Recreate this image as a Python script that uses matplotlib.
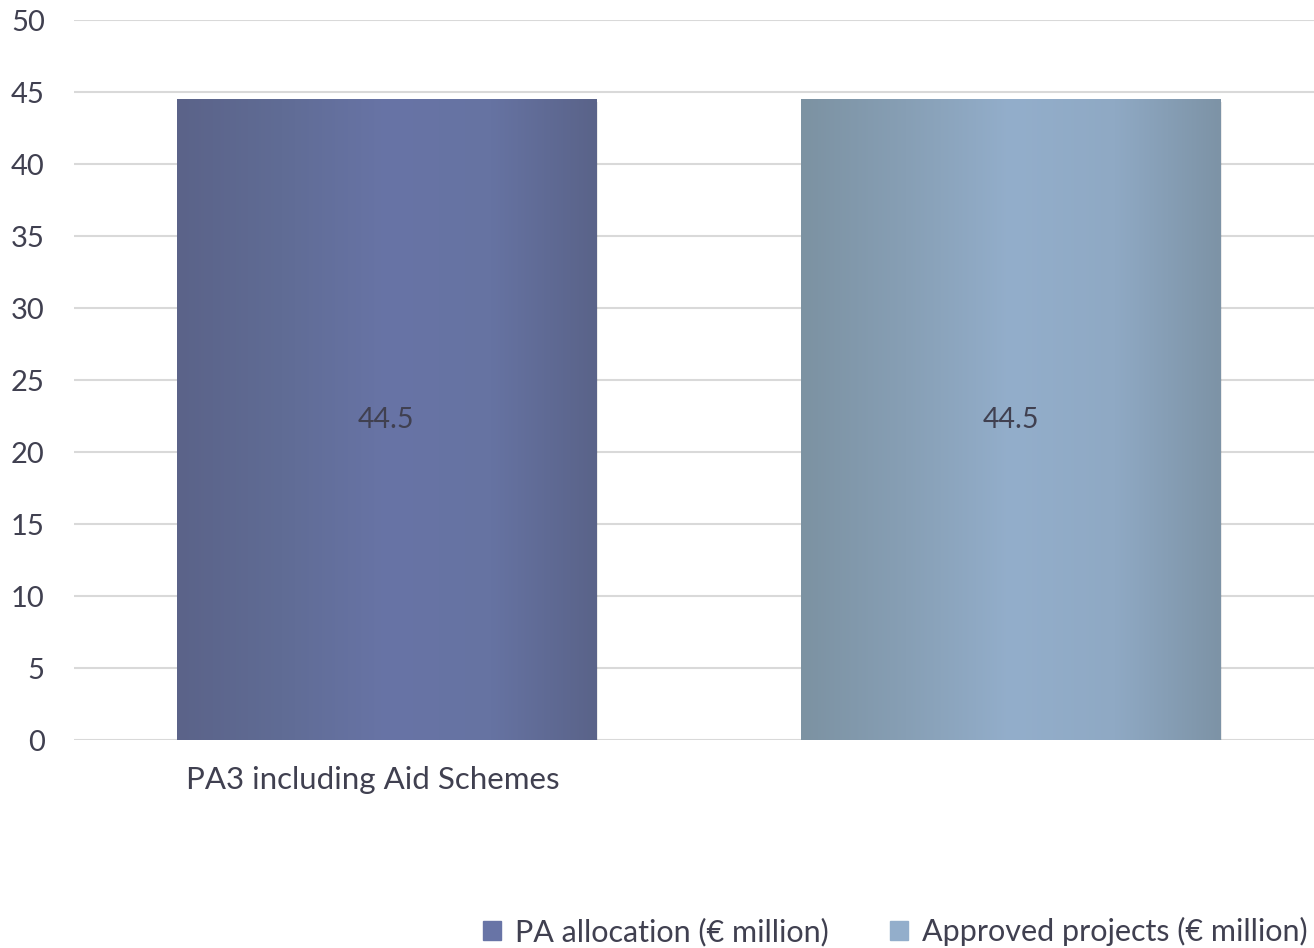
import matplotlib.pyplot as plt
import matplotlib.transforms as mtransforms
import numpy as np
from matplotlib.colors import LinearSegmentedColormap, to_rgb

plt.rcParams['font.family'] = ['Lato', 'DejaVu Sans']

# Données
categories = ["PA3 including Aid Schemes", ""]
series_names = ["PA allocation (€ million)", "Approved projects (€ million)"]
pa_allocation = [44.5, 0]
approved = [0, 44.5]
yticks = list(range(0, 51, 5))

# Couleurs des dégradés (bord, centre, bord)
grad1 = ["#5b6389", "#606c95", "#6874a6", "#6673a2", "#5a6389"]
grad2 = ["#7c92a2", "#879fb5", "#93aecb", "#8fa9c4", "#7d93a6"]
text_col = "#404050"

fig = plt.figure(figsize=(13.14, 9.48), dpi=100)
ax = fig.add_axes([0.0563, 0.2194, 0.9437, 0.7595])

x = np.arange(len(categories))
w = 0.671
b1 = ax.bar(x, pa_allocation, w, color=grad1[2], label=series_names[0], zorder=2)
b2 = ax.bar(x, approved, w, color=grad2[2], label=series_names[1], zorder=2)


def gradient_fill(bars, stops):
    cmap = LinearSegmentedColormap.from_list("g", [to_rgb(c) for c in stops])
    img = np.linspace(0, 1, 256).reshape(1, -1)
    for r in bars:
        h = r.get_height()
        if h <= 0:
            continue
        x0, w0 = r.get_x(), r.get_width()
        # ombre légère
        ax.bar(x0 + w0 / 2 + 0.003, h, w0, bottom=-0.2, color="#000000",
               alpha=0.08, zorder=1.5)
        ax.imshow(img, cmap=cmap, extent=[x0, x0 + w0, 0, h], aspect="auto",
                  zorder=3, interpolation="bicubic")
        ax.text(x0 + w0 / 2, h / 2, f"{h:g}", ha="center", va="center",
                fontsize=20.5, color=text_col, zorder=4)


gradient_fill(b1, grad1)
gradient_fill(b2, grad2)

ax.set_xlim(-0.5, 1.485)
ax.set_ylim(0, 50)
ax.set_yticks(yticks)
ax.set_xticks(x)
ax.set_xticklabels(categories, fontsize=22.5)
ax.grid(axis="y", color="#d9d9d9", linewidth=1.5, zorder=0)
ax.set_axisbelow(True)
for s in ax.spines.values():
    s.set_visible(False)
ax.tick_params(axis="both", length=0, colors=text_col)
ax.tick_params(axis="y", pad=21, labelsize=21)
ax.tick_params(axis="x", pad=19)

# léger décalage du libellé de catégorie vers la gauche
shift = mtransforms.ScaledTranslation(-14 / 100, 0, fig.dpi_scale_trans)
for lbl in ax.get_xticklabels():
    lbl.set_transform(lbl.get_transform() + shift)

h1 = plt.Rectangle((0, 0), 1, 1, color=grad1[2])
h2 = plt.Rectangle((0, 0), 1, 1, color=grad2[2])
fig.legend([h1, h2], series_names, loc="lower right", bbox_to_anchor=(1.016, -0.027),
           ncol=2, frameon=False, fontsize=22, handlelength=0.6, handleheight=0.6,
           handletextpad=0.45, columnspacing=2.0, labelcolor=text_col)

fig.savefig("out.png", dpi=100)
